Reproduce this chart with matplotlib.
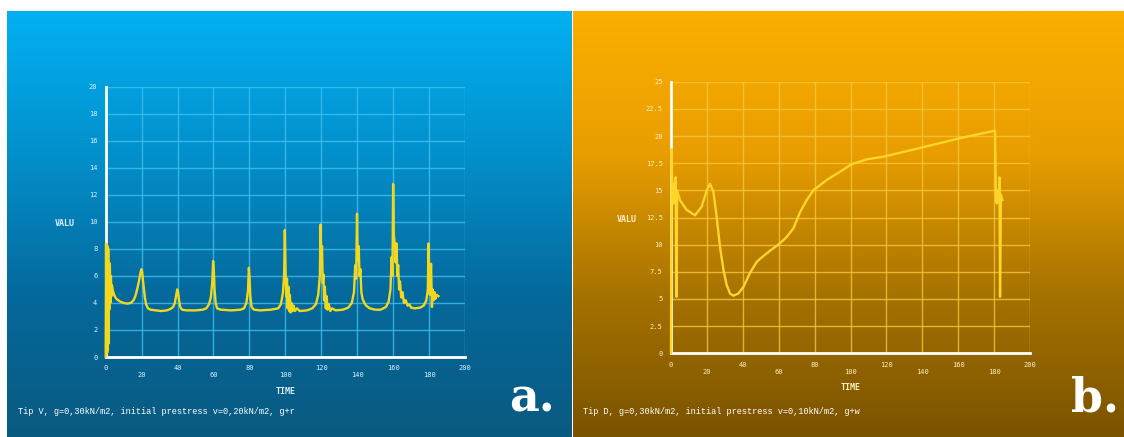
import numpy as np
import matplotlib
matplotlib.use("Agg")
import matplotlib.pyplot as plt
from matplotlib.colors import LinearSegmentedColormap

# panel a: time / value
time_a = [0.0, 0.2, 0.4, 0.6, 0.8, 1.0, 1.2, 1.4, 1.6, 1.8, 2.0, 2.3, 2.6, 2.9, 3.2, 3.5,
          4, 5, 6, 8, 10, 12, 14, 15.5, 16.5, 17.5, 18.5, 19.3, 19.8, 20.3, 20.8, 21.3,
          21.8, 22.5, 23.5, 25, 28, 31, 34, 36, 37.5, 38.5, 39.3, 39.8, 40.3, 40.8, 41.5,
          42.5, 45, 50, 54, 56, 57.5, 58.5, 59.3, 59.8, 60.2, 60.6, 61.2, 62, 64, 70, 75,
          77, 78.3, 79.2, 79.7, 80.1, 80.5, 81.2, 82.5, 86, 92, 96, 97.5, 98.6, 99.3, 99.7,
          100.1, 100.5, 100.9, 101.3, 101.7, 102.1, 102.5, 102.9, 103.4, 104, 104.6, 105.3,
          106.5, 108, 112, 115, 117, 118.3, 119.2, 119.6, 120.0, 120.4, 120.8, 121.2, 121.6,
          122, 122.5, 123, 123.5, 124.2, 125, 126, 128, 132, 135, 137, 138.2, 138.9, 139.4,
          139.9, 140.3, 140.8, 141.3, 141.8, 142.3, 143, 144, 145, 147, 150, 153, 156,
          157.5, 158.5, 159.2, 159.6, 160.0, 160.4, 160.9, 161.4, 161.9, 162.3, 162.8,
          163.3, 163.8, 164.5, 165.2, 166, 167, 168, 169, 170, 172, 175, 177, 178.5, 179.3,
          179.7, 180.1, 180.5, 181.1, 181.6, 182.0, 182.5, 183, 183.5, 184.2, 185.2]
value_a = [0.0, 8.4, 0.2, 8.3, 0.3, 8.2, 0.5, 8.0, 1.0, 7.0, 3.5, 6.9, 4.0, 6.0, 4.5, 5.3,
           4.9, 4.5, 4.3, 4.1, 4.0, 3.95, 4.0, 4.2, 4.5, 5.0, 5.6, 6.2, 6.5, 6.3, 5.6, 5.0,
           4.4, 3.9, 3.6, 3.5, 3.45, 3.4, 3.45, 3.55, 3.7, 4.0, 4.6, 5.0, 4.8, 4.2, 3.7,
           3.5, 3.45, 3.45, 3.5, 3.6, 3.9, 4.4, 5.5, 7.1, 6.4, 5.0, 4.0, 3.6, 3.5, 3.45, 3.5,
           3.6, 4.0, 4.9, 6.6, 5.8, 4.5, 3.7, 3.5, 3.45, 3.5, 3.6, 3.9, 4.7, 6.0, 9.4,
           6.5, 4.5, 5.8, 3.6, 5.2, 3.4, 4.6, 3.3, 4.0, 3.4, 3.8, 3.4,
           3.6, 3.4, 3.45, 3.6, 3.9, 4.6, 6.0, 9.8, 7.0, 8.2, 5.5, 6.1, 4.2,
           5.2, 3.6, 4.5, 3.5, 3.9, 3.4, 3.6, 3.45, 3.5, 3.65, 4.0, 4.8, 6.8, 5.8,
           10.6, 7.2, 8.2, 6.0, 6.5, 4.8, 4.3, 4.0, 3.8, 3.6, 3.5, 3.5, 3.7,
           4.1, 5.0, 7.4, 6.0, 12.8, 9.0, 8.4, 7.0, 8.4, 6.0, 6.8,
           5.0, 5.6, 4.4, 4.8, 4.0, 4.2, 3.8, 3.9, 3.65, 3.6, 3.65, 3.8, 4.2, 5.0,
           8.4, 5.5, 4.6, 6.9, 3.7, 5.0, 4.2, 4.8, 4.3, 4.6, 4.5]

# panel b
time_b = [0.0, 0.4, 0.8, 1.2, 1.6, 2.2, 2.6, 3.0, 3.4, 5.0, 8.7, 13.4, 17.1, 19.9, 21.7,
          23.6, 25.4, 27.3, 29.2, 31.0, 32.9, 34.7, 37.5, 40.3, 44.0, 47.7, 49.6, 55.2,
          59.8, 64.4, 68.2, 71.9, 75.6, 79.3, 86.7, 94.1, 100.6, 109.0, 118.3, 138.7,
          161.0, 180.5, 181.0, 181.5, 182.0, 182.6, 183.0, 183.3, 183.8, 184.6]
value_b = [0.0, 18.8, 14.0, 15.6, 13.8, 15.2, 16.2, 5.2, 15.0, 14.1, 13.2, 12.7, 13.5,
           15.0, 15.6, 14.9, 12.6, 9.8, 7.7, 6.3, 5.5, 5.3, 5.5, 6.1, 7.4, 8.4, 8.7, 9.45,
           10.0, 10.7, 11.5, 13.0, 14.1, 15.0, 15.95, 16.7, 17.4, 17.85, 18.1, 18.9,
           19.8, 20.5, 14.4, 13.8, 15.0, 14.0, 16.2, 5.2, 14.6, 14.1]

xticks = list(range(0, 201, 20))
xlabels = [str(t) if i % 2 == 0 else "\n" + str(t) for i, t in enumerate(xticks)]
yticks_a = list(range(0, 21, 2))
yticks_b = [0, 2.5, 5, 7.5, 10, 12.5, 15, 17.5, 20, 22.5, 25]

captions = ["Tip V, g=0,30kN/m2, initial prestress v=0,20kN/m2, g+r",
            "Tip D, g=0,30kN/m2, initial prestress v=0,10kN/m2, g+w"]

W, H = 1124, 437
fig = plt.figure(figsize=(W / 100, H / 100), dpi=100)
fig.patch.set_facecolor("white")

bg = fig.add_axes([0, 0, 1, 1])
bg.set_xlim(0, W)
bg.set_ylim(H, 0)
bg.axis("off")
grad = np.linspace(0, 1, 256).reshape(-1, 1)
blue = LinearSegmentedColormap.from_list("b", ["#02b0f2", "#0390cc", "#05699c", "#0a5a80"])
orange = LinearSegmentedColormap.from_list("o", ["#fbaf00", "#e89e00", "#a67200", "#7a5300"])
bg.imshow(grad, cmap=blue, extent=[7, 572, H, 11], aspect="auto")
bg.imshow(grad, cmap=orange, extent=[573, W, H, 11], aspect="auto")

panels = [
    dict(rect=[105.7, 86.7, 465, 357], t=time_a, v=value_a, yt=yticks_a, ylim=20,
         grid="#3fc0f0", txt="#d8f2ff", line="#f2d81c", cap=captions[0], capx=18,
         letter="a.", letx=555, valux=55, timey=392),
    dict(rect=[671, 81.7, 1030, 353.3], t=time_b, v=value_b, yt=yticks_b, ylim=25,
         grid="#f8c63a", txt="#fff0c0", line="#ffd52a", cap=captions[1], capx=583,
         letter="b.", letx=1119, valux=617, timey=388),
]

for p in panels:
    x0, y0, x1, y1 = p["rect"]
    ax = fig.add_axes([x0 / W, (H - y1) / H, (x1 - x0) / W, (y1 - y0) / H])
    ax.patch.set_alpha(0)
    ax.plot(p["t"], p["v"], color=p["line"], lw=1.7, zorder=5, clip_on=False)
    ax.set_xlim(0, 200)
    ax.set_ylim(0, p["ylim"])
    ax.set_xticks(xticks)
    ax.set_xticklabels(xlabels)
    ax.set_yticks(p["yt"])
    ax.set_yticklabels([("%g" % y) for y in p["yt"]])
    ax.grid(True, color=p["grid"], lw=1.0, alpha=0.8)
    ax.tick_params(length=0, labelsize=5, colors=p["txt"], pad=6)
    for lab in ax.get_xticklabels() + ax.get_yticklabels():
        lab.set_family("DejaVu Sans Mono")
    for s in ["top", "right"]:
        ax.spines[s].set_visible(False)
    for s in ["left", "bottom"]:
        ax.spines[s].set_color("white")
        ax.spines[s].set_linewidth(2)
        ax.spines[s].set_zorder(4)

    bg.text(p["valux"], (y0 + y1) / 2 + 2, "VALU", color=p["txt"], fontsize=6,
            family="DejaVu Sans Mono", fontweight="bold", va="center")
    bg.text((x0 + x1) / 2, p["timey"], "TIME", color=p["txt"], fontsize=6,
            family="DejaVu Sans Mono", fontweight="bold", ha="center", va="center")
    bg.text(p["capx"], 411, p["cap"], color="white", fontsize=6.2,
            family="Liberation Mono", va="center")
    bg.text(p["letx"], 412, p["letter"], color="white", fontsize=33,
            family="DejaVu Serif", fontweight="bold", ha="right", va="baseline")

fig.savefig("out.png", dpi=100, facecolor=fig.get_facecolor())
